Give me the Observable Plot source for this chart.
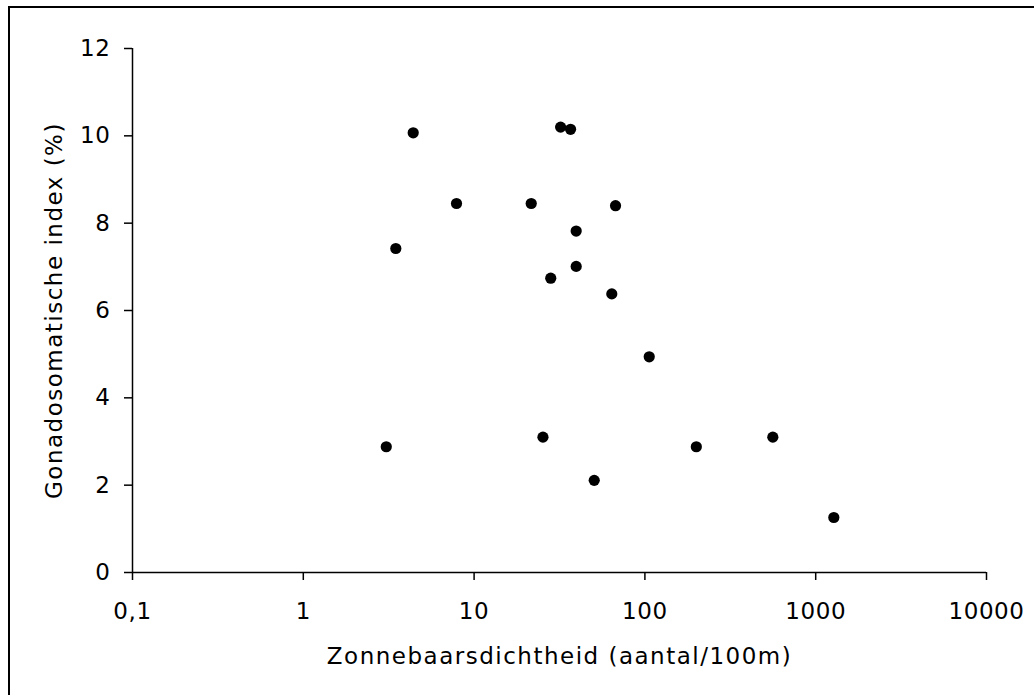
<!DOCTYPE html>
<html>
<head>
<meta charset="utf-8">
<script src="https://cdn.jsdelivr.net/npm/d3@7"></script>
<script src="https://cdn.jsdelivr.net/npm/@observablehq/plot@0.6"></script>
<style>
  html, body { margin: 0; padding: 0; background: #fff; overflow: hidden; }
  #frame { position: absolute; left: 8px; top: 6px; width: 2000px; height: 2000px;
           border-top: 2px solid #000; border-left: 2px solid #000; box-sizing: border-box; }
  #chart { position: absolute; left: 0; top: 0; }
  #chart svg g[aria-label="x-axis tick label"] text,
  #chart svg g[aria-label="y-axis tick label"] text { letter-spacing: 0.6px; }
  #chart svg g[aria-label="text"] text { letter-spacing: 1.5px; }
</style>
</head>
<body>
<div id="frame"></div>
<div id="chart"></div>
<script>
// Data
const density = [4.40, 32.1, 36.7, 7.89, 21.6, 67.3, 39.6, 3.48, 39.6, 28.1, 64.0, 106, 3.06, 25.3, 200, 50.5, 561, 1277];
const gsi     = [10.07, 10.20, 10.15, 8.45, 8.45, 8.40, 7.82, 7.42, 7.01, 6.74, 6.38, 4.94, 2.88, 3.10, 2.88, 2.11, 3.10, 1.26];
const xTicks = [0.1, 1, 10, 100, 1000, 10000];
const xTickLabels = ["0,1", "1", "10", "100", "1000", "10000"];
const yTicks = [0, 2, 4, 6, 8, 10, 12];
const xLabel = "Zonnebaarsdichtheid (aantal/100m)";
const yLabel = "Gonadosomatische index (%)";

const data = density.map((d, i) => ({x: d, y: gsi[i]}));

const chart = Plot.plot({
  width: 1034,
  height: 695,
  marginLeft: 132,
  marginRight: 48,
  marginTop: 48,
  marginBottom: 123,
  x: {type: "log", domain: [0.1, 10000]},
  y: {domain: [0, 12]},
  style: {fontFamily: "'DejaVu Sans', Verdana, sans-serif", fontSize: "23px", color: "#000", background: "transparent"},
  marks: [
    Plot.ruleY([0], {stroke: "#000", strokeWidth: 1.5}),
    Plot.ruleX([0.1], {stroke: "#000", strokeWidth: 1.5}),
    Plot.axisX({ticks: xTicks, tickFormat: d => xTickLabels[xTicks.indexOf(d)], tickSize: 8, tickPadding: 22, strokeWidth: 1.5, label: null}),
    Plot.axisY({ticks: yTicks, tickSize: 8, tickPadding: 14, strokeWidth: 1.5, label: null}),
    Plot.dot(data, {x: "x", y: "y", r: 5.6, fill: "#000", stroke: "none"}),
    Plot.text([xLabel], {frameAnchor: "bottom", dy: 91, lineAnchor: "bottom", textAnchor: "middle", fill: "#000"}),
    Plot.text([yLabel], {frameAnchor: "left", dx: -78, rotate: -90, textAnchor: "middle", lineAnchor: "middle", fill: "#000"})
  ]
});
document.getElementById("chart").appendChild(chart);
</script>
</body>
</html>
